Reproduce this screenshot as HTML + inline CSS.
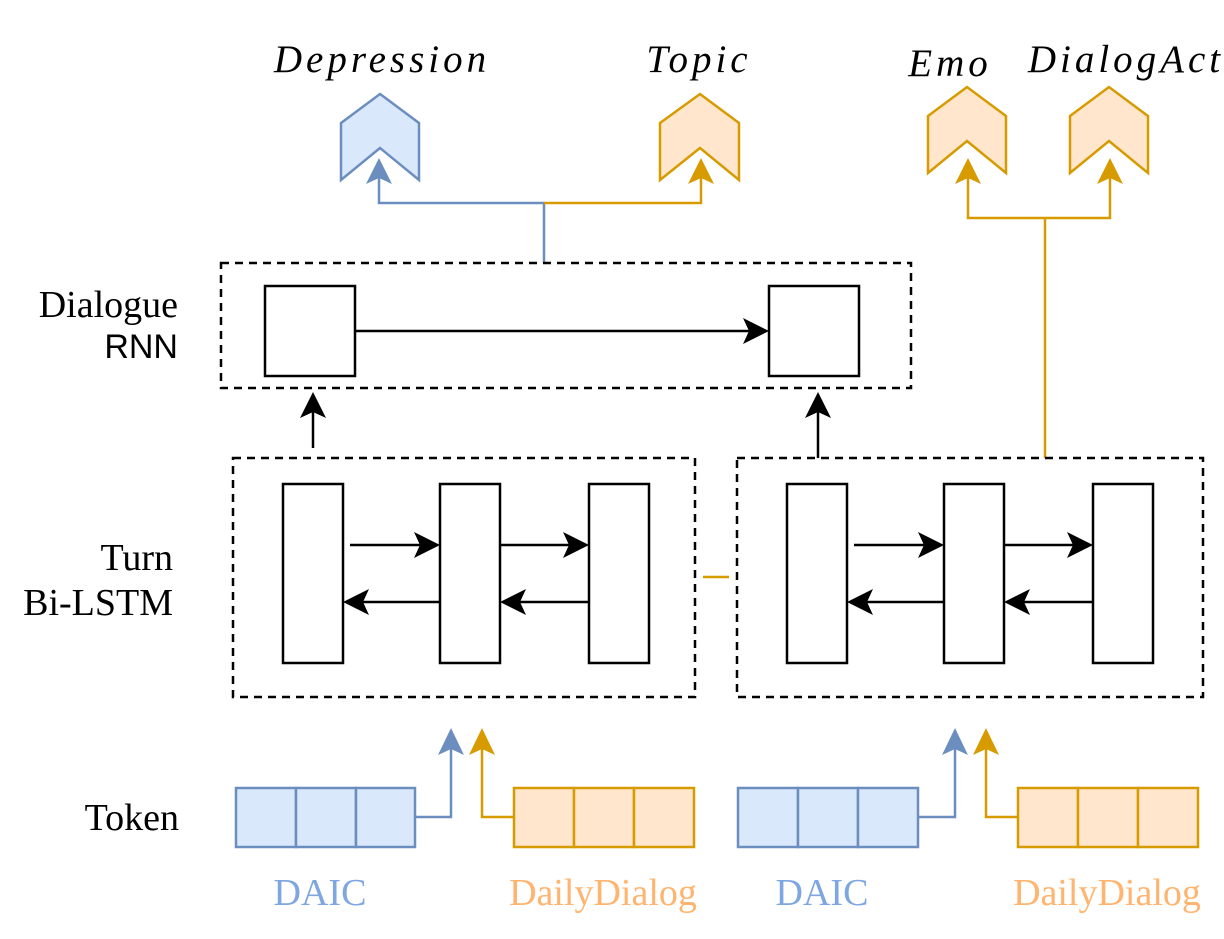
<!DOCTYPE html>
<html><head><meta charset="utf-8"><style>
html,body{margin:0;padding:0;background:#fff;}
svg{display:block;}
</style></head><body>
<svg width="1224" height="939" viewBox="0 0 1224 939" xmlns="http://www.w3.org/2000/svg">
<g font-family="Liberation Serif, serif" font-size="38" fill="#000">
<text x="382" y="72" text-anchor="middle" font-style="italic" font-size="39" letter-spacing="4">Depression</text>
<text x="699" y="72" text-anchor="middle" font-style="italic" font-size="39" letter-spacing="4">Topic</text>
<text x="950" y="76" text-anchor="middle" font-style="italic" font-size="39" letter-spacing="4">Emo</text>
<text x="1126" y="72" text-anchor="middle" font-style="italic" font-size="39" letter-spacing="4">DialogAct</text>
<text x="178" y="317" text-anchor="end">Dialogue</text>
<text x="178" y="358" text-anchor="end" font-family="Liberation Sans, sans-serif" font-size="34">RNN</text>
<text x="173" y="570" text-anchor="end">Turn</text>
<text x="173" y="615" text-anchor="end">Bi-LSTM</text>
<text x="179" y="830" text-anchor="end">Token</text>
<text x="320" y="905" text-anchor="middle" fill="#7ea6e0">DAIC</text>
<text x="603" y="905" text-anchor="middle" fill="#FFB570">DailyDialog</text>
<text x="822" y="905" text-anchor="middle" fill="#7ea6e0">DAIC</text>
<text x="1107" y="905" text-anchor="middle" fill="#FFB570">DailyDialog</text>
</g>
<g stroke-width="2.5">
<polygon points="341,123 380,94 419,123 419,180 380,148 341,180" fill="#dae8fc" stroke="#6c8ebf"/>
<polygon points="660,123 700,94 739,123 739,180 700,148 660,180" fill="#ffe6cc" stroke="#d79b00"/>
<polygon points="928,116 967,87 1006,116 1006,173 967,141 928,173" fill="#ffe6cc" stroke="#d79b00"/>
<polygon points="1070,116 1109,87 1148,116 1148,173 1109,141 1070,173" fill="#ffe6cc" stroke="#d79b00"/>
</g>
<g fill="none" stroke-width="2.5">
<polyline points="544,263 544,203 379,203 379,170" stroke="#6c8ebf"/>
<polyline points="544,203 701,203 701,170" stroke="#d79b00"/>
<polyline points="1045,458 1045,218" stroke="#d79b00"/>
<polyline points="968,170 968,218 1110,218 1110,170" stroke="#d79b00"/>
<line x1="703" y1="577" x2="729" y2="577" stroke="#d79b00"/>
</g>
<g stroke="none">
<polygon points="379,158 366,184 379,178 392,184" fill="#6c8ebf"/>
<polygon points="701,158 688,184 701,178 714,184" fill="#d79b00"/>
<polygon points="968,158 955,184 968,178 981,184" fill="#d79b00"/>
<polygon points="1110,158 1097,184 1110,178 1123,184" fill="#d79b00"/>
</g>
<g fill="none" stroke="#000" stroke-width="2.5" stroke-dasharray="8,6">
<rect x="221" y="263" width="690" height="125"/>
<rect x="233" y="458" width="462" height="239"/>
<rect x="737" y="458" width="466" height="239"/>
</g>
<g fill="#fff" stroke="#000" stroke-width="2.5">
<rect x="265" y="286" width="90" height="90"/>
<rect x="769" y="286" width="90" height="90"/>
<rect x="283" y="484" width="60" height="179"/>
<rect x="440" y="484" width="60" height="179"/>
<rect x="589" y="484" width="60" height="179"/>
<rect x="787" y="484" width="60" height="179"/>
<rect x="944" y="484" width="60" height="179"/>
<rect x="1093" y="484" width="60" height="179"/>
</g>
<g stroke="#000" stroke-width="2.5">
<line x1="355" y1="331" x2="760" y2="331"/>
<line x1="313" y1="448" x2="313" y2="402"/>
<line x1="818" y1="458" x2="818" y2="402"/>
<line x1="350" y1="545" x2="430" y2="545"/>
<line x1="500" y1="545" x2="579" y2="545"/>
<line x1="440" y1="602" x2="353" y2="602"/>
<line x1="589" y1="602" x2="510" y2="602"/>
<line x1="854" y1="545" x2="934" y2="545"/>
<line x1="1004" y1="545" x2="1083" y2="545"/>
<line x1="944" y1="602" x2="857" y2="602"/>
<line x1="1093" y1="602" x2="1014" y2="602"/>
</g>
<g fill="#000">
<polygon points="769,331 743,318 749,331 743,344"/>
<polygon points="313,392 300,418 313,412 326,418"/>
<polygon points="818,392 805,418 818,412 831,418"/>
<polygon points="440,545 414,532 420,545 414,558"/>
<polygon points="589,545 563,532 569,545 563,558"/>
<polygon points="343,602 369,589 363,602 369,615"/>
<polygon points="500,602 526,589 520,602 526,615"/>
<polygon points="944,545 918,532 924,545 918,558"/>
<polygon points="1093,545 1067,532 1073,545 1067,558"/>
<polygon points="847,602 873,589 867,602 873,615"/>
<polygon points="1004,602 1030,589 1024,602 1030,615"/>
</g>
<g stroke-width="2.5">
<g fill="#dae8fc" stroke="#6c8ebf">
<rect x="236" y="788" width="60" height="59"/><rect x="296" y="788" width="60" height="59"/><rect x="356" y="788" width="59" height="59"/>
<rect x="738" y="788" width="60" height="59"/><rect x="798" y="788" width="60" height="59"/><rect x="858" y="788" width="60" height="59"/>
</g>
<g fill="#ffe6cc" stroke="#d79b00">
<rect x="514" y="788" width="60" height="59"/><rect x="574" y="788" width="60" height="59"/><rect x="634" y="788" width="60" height="59"/>
<rect x="1018" y="788" width="60" height="59"/><rect x="1078" y="788" width="60" height="59"/><rect x="1138" y="788" width="60" height="59"/>
</g>
</g>
<g fill="none" stroke-width="2.5">
<polyline points="415,817 451,817 451,748" stroke="#6c8ebf"/>
<polyline points="514,817 482,817 482,748" stroke="#d79b00"/>
<polyline points="918,817 955,817 955,748" stroke="#6c8ebf"/>
<polyline points="1018,817 986,817 986,748" stroke="#d79b00"/>
</g>
<polygon points="451,728 438,755 451,749 464,755" fill="#6c8ebf"/>
<polygon points="482,728 469,755 482,749 495,755" fill="#d79b00"/>
<polygon points="955,728 942,755 955,749 968,755" fill="#6c8ebf"/>
<polygon points="986,728 973,755 986,749 999,755" fill="#d79b00"/>
</svg>
</body></html>
